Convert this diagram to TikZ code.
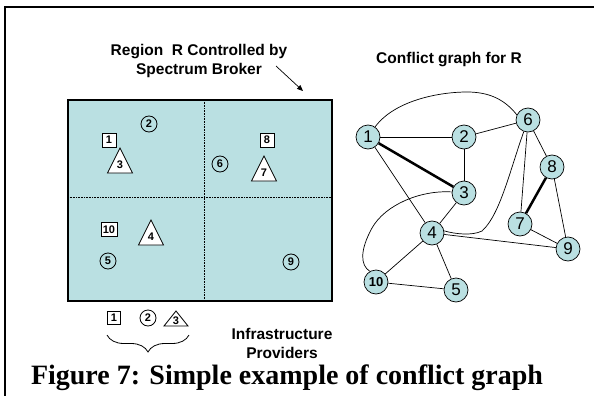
\documentclass[tikz,border=0pt]{standalone}
\usepackage{fontspec}
\setmainfont{Liberation Serif}
\setsansfont{Liberation Sans}
\usetikzlibrary{arrows.meta,decorations.pathreplacing,calc}
\definecolor{boxc}{RGB}{186,224,226}
\begin{document}
\begin{tikzpicture}[x=1pt,y=-1pt,
  lbl/.style={font=\sffamily\bfseries\fontsize{15.5}{19}\selectfont, align=center, inner sep=0},
  num/.style={font=\sffamily\bfseries\fontsize{11}{11}\selectfont, inner sep=0},
  sq/.style={draw, fill=white, minimum size=14pt, inner sep=0, line width=0.8pt, num},
  sc/.style={circle, draw, minimum size=16pt, inner sep=0, line width=0.8pt, num},
  gn/.style={circle, draw, fill=boxc, minimum size=24pt, inner sep=0, line width=0.7pt, font=\sffamily\fontsize{17}{17}\selectfont},
  ge/.style={line width=0.7pt},
  gthick/.style={line width=2.5pt},
  tri/.pic={\draw[fill=white, line width=0.8pt] (-12.5,12.5) -- (0,-12.5) -- (12.5,12.5) -- cycle;
            \node[num] (-n) at (0,4) {#1};},
  flattri/.pic={\draw[fill=white, line width=0.8pt] (-12,7.5) -- (0,-7.5) -- (12,7.5) -- cycle;
            \node[num] (-n) at (0,2) {#1};}
]
\useasboundingbox (0,0) rectangle (594,396);
% outer frame
\draw[line width=2pt] (5,397) -- (5,7) -- (595,7);

% region box
\node[draw, fill=boxc, line width=1.6pt, minimum width=264pt, minimum height=201pt, inner sep=0] (region) at (200,200.5) {};
\draw[densely dotted, line width=0.6pt] (204,100) -- (204,301);
\draw[densely dotted, line width=0.6pt] (68,197) -- (332,197);

% region label and arrow
\node[lbl] (rlabel) at (199,61) {Region\ \ R Controlled by\\Spectrum Broker};
\coordinate (astart) at (276,66);
\coordinate (atip) at (303,91);
\draw[line width=0.7pt, -{Triangle[length=6pt,width=5pt]}] (astart) -- (atip);

% contents of region
\node[sq] (s1) at (109,140) {1};
\node[sc] (c2) at (149,124) {2};
\pic (t3) at (120,160.5) {tri=3};
\node[sc] (c6) at (220,164) {6};
\node[sq] (s8) at (267,140) {8};
\pic (t7) at (264,168.5) {tri=7};
\node[sq, minimum width=16pt] (s10) at (109,229.5) {10};
\pic (t4) at (151,232.5) {tri=4};
\node[sc] (c5) at (108,261) {5};
\node[sc] (c9) at (291,262) {9};

% legend row
\node[sq, minimum size=13pt] (l1) at (114,318) {1};
\node[sc] (l2) at (148,318) {2};
\pic (l3) at (176,318.5) {flattri=3};
\draw[line width=0.8pt, decorate, decoration={brace, amplitude=17pt}] (189,335) -- (107,335);
\node[lbl] (infra) at (282,343) {Infrastructure\\Providers};

% conflict graph
\node[lbl] (cgtitle) at (449,60) {Conflict graph for R};
\node[gn] (g1) at (368,137) {1};
\node[gn] (g2) at (464,137) {2};
\node[gn] (g6) at (528,120) {6};
\node[gn] (g8) at (552,167) {8};
\node[gn] (g3) at (464,193) {3};
\node[gn] (g7) at (520,224) {7};
\node[gn] (g4) at (432,233) {4};
\node[gn] (g9) at (568,249) {9};
\node[gn, font=\sffamily\bfseries\fontsize{13}{13}\selectfont] (g10) at (376,282) {10};
\node[gn] (g5) at (456,290) {5};

\draw[ge] (g1) -- (g2);
\draw[gthick] (g1) -- (g3);
\draw[ge] (g1) -- (g4);
\draw[ge] (g2) -- (g3);
\draw[ge] (g2) -- (g6);
\draw[ge] (g3) -- (g4);
\draw[ge] (g6) -- (g8);
\draw[ge] (g6) -- (g7);
\draw[gthick] (g8) -- (g7);
\draw[ge] (g8) -- (g9);
\draw[ge] (g7) -- (g9);
\draw[ge] (g4) -- (g9);
\draw[ge] (g4) -- (g10);
\draw[ge] (g4) -- (g5);
\draw[ge] (g10) -- (g5);
\draw[ge] (g1.55) .. controls (395,100) and (440,92) .. (467,92) .. controls (490,92) and (505,100) .. (g6.155);
\draw[ge] (g6.250) .. controls (510,170) and (500,215) .. (482,231) .. controls (472,236) and (455,234) .. (g4.10);
\draw[ge] (g3.175) .. controls (420,190) and (385,205) .. (372,228) .. controls (360,250) and (360,265) .. (g10.120);

% caption
\node[font=\bfseries\fontsize{28}{30}\selectfont, inner sep=0] (caption) at (287,378) {Figure 7: Simple example of conflict graph};
\end{tikzpicture}
\end{document}
